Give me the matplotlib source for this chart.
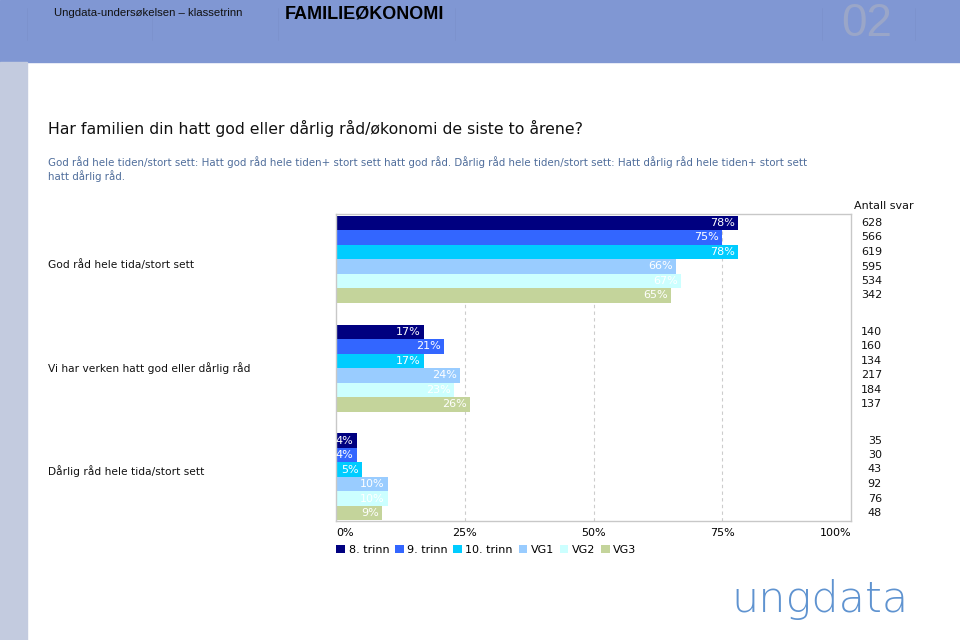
import matplotlib
matplotlib.use("Agg")
import matplotlib.pyplot as plt
from matplotlib.patches import Rectangle, Patch

categories = ["God råd hele tida/stort sett",
              "Vi har verken hatt god eller dårlig råd",
              "Dårlig råd hele tida/stort sett"]
series = ["8. trinn", "9. trinn", "10. trinn", "VG1", "VG2", "VG3"]
values = [
    [78, 75, 78, 66, 67, 65],
    [17, 21, 17, 24, 23, 26],
    [4, 4, 5, 10, 10, 9],
]
counts = [
    [628, 566, 619, 595, 534, 342],
    [140, 160, 134, 217, 184, 137],
    [35, 30, 43, 92, 76, 48],
]
xticks = [0, 25, 50, 75, 100]
colors = ["#000080", "#3366ff", "#00ccff", "#99ccff", "#ccffff", "#c4d49b"]

W, H = 960, 640
fig = plt.figure(figsize=(9.6, 6.4), dpi=100)

def fx(x): return x / W
def fy(y): return 1 - y / H

# header band and left strip
fig.patches.append(Rectangle((0, fy(62)), 1, 62 / H, transform=fig.transFigure,
                             color="#8097d3", zorder=0))
fig.patches.append(Rectangle((0, 0), fx(27), fy(62), transform=fig.transFigure,
                             color="#c3cbdf", zorder=0))
for xv in [27, 152, 278, 455, 822, 915]:
    fig.add_artist(plt.Line2D([fx(xv), fx(xv)], [fy(8), fy(40)], transform=fig.transFigure,
                              color="#7b91cb", lw=0.5))
fig.text(fx(54), fy(13), "Ungdata-undersøkelsen – klassetrinn", fontsize=8.2,
         family="Liberation Sans", va="center", ha="left", color="#111111")
fig.text(fx(285), fy(14), "FAMILIEØKONOMI", fontsize=13, fontweight="bold",
         family="Liberation Sans", va="center", ha="left", color="#000000")
fig.text(fx(867), fy(24), "02", fontsize=33, family="Liberation Sans", va="center",
         ha="center", color="#9aa6c8")

# title / subtitle
fig.text(fx(48), fy(128), "Har familien din hatt god eller dårlig råd/økonomi de siste to årene?",
         fontsize=11.3, va="center", ha="left", color="#111111")
fig.text(fx(48), fy(169),
         "God råd hele tiden/stort sett: Hatt god råd hele tiden+ stort sett hatt god råd. Dårlig råd hele tiden/stort sett: Hatt dårlig råd hele tiden+ stort sett\nhatt dårlig råd.",
         fontsize=7.35, va="center", ha="left", color="#4f6d9b", linespacing=1.15)

# axes
ax = fig.add_axes([fx(336), fy(521), (851 - 336) / W, (521 - 214) / H])
gap = 7.5
for g, cat in enumerate(categories):
    for i, s in enumerate(series):
        yc = g * gap + i
        v = values[g][i]
        ax.barh(yc, v, height=1.0, color=colors[i], zorder=2,
                label=s if g == 0 else None)
        ax.text(v - 0.6, yc, f"{v}%", color="white", fontsize=8, ha="right",
                va="center", zorder=3)
ax.set_xlim(0, 100)
ax.set_ylim(20.55, -0.62)
ax.set_yticks([])
ax.set_xticks(xticks)
ax.set_xticklabels([f"{t}%" for t in xticks], fontsize=8)
ax.get_xticklabels()[0].set_ha("left")
ax.get_xticklabels()[-1].set_ha("right")
ax.tick_params(axis="x", length=0, pad=5)
for t in [25, 50, 75]:
    ax.axvline(t, color="#cccccc", lw=0.8, ls=(0, (3, 3)), zorder=1)
for sp in ax.spines.values():
    sp.set_color("#c8c8c8")
    sp.set_linewidth(1.0)

# category labels
for cat, ypix in zip(categories, [265, 368, 471]):
    fig.text(fx(48), fy(ypix), cat, fontsize=7.7, va="center", ha="left", color="#111111")

# counts
fig.text(fx(854), fy(206), "Antall svar", fontsize=8, va="center", ha="left", color="#111111")
for g in range(3):
    for i in range(6):
        yc_pix = 223 + (g * gap + i) * 14.5
        fig.text(fx(882), fy(yc_pix), str(counts[g][i]), fontsize=8, va="center",
                 ha="right", color="#111111")

# legend
handles = [Patch(facecolor=c, edgecolor="none") for c in colors]
fig.legend(handles, series, loc="center left", bbox_to_anchor=(fx(332), fy(550)),
           ncol=6, frameon=False, fontsize=8, handlelength=0.8, handleheight=0.8,
           handletextpad=0.3, columnspacing=0.5, borderaxespad=0)

# logo
fig.text(fx(820), fy(600), "ungdata", fontsize=31, family="DejaVu Sans",
         fontweight="light", color="#5f93d0", va="center", ha="center")

fig.savefig("out.png", dpi=100)
